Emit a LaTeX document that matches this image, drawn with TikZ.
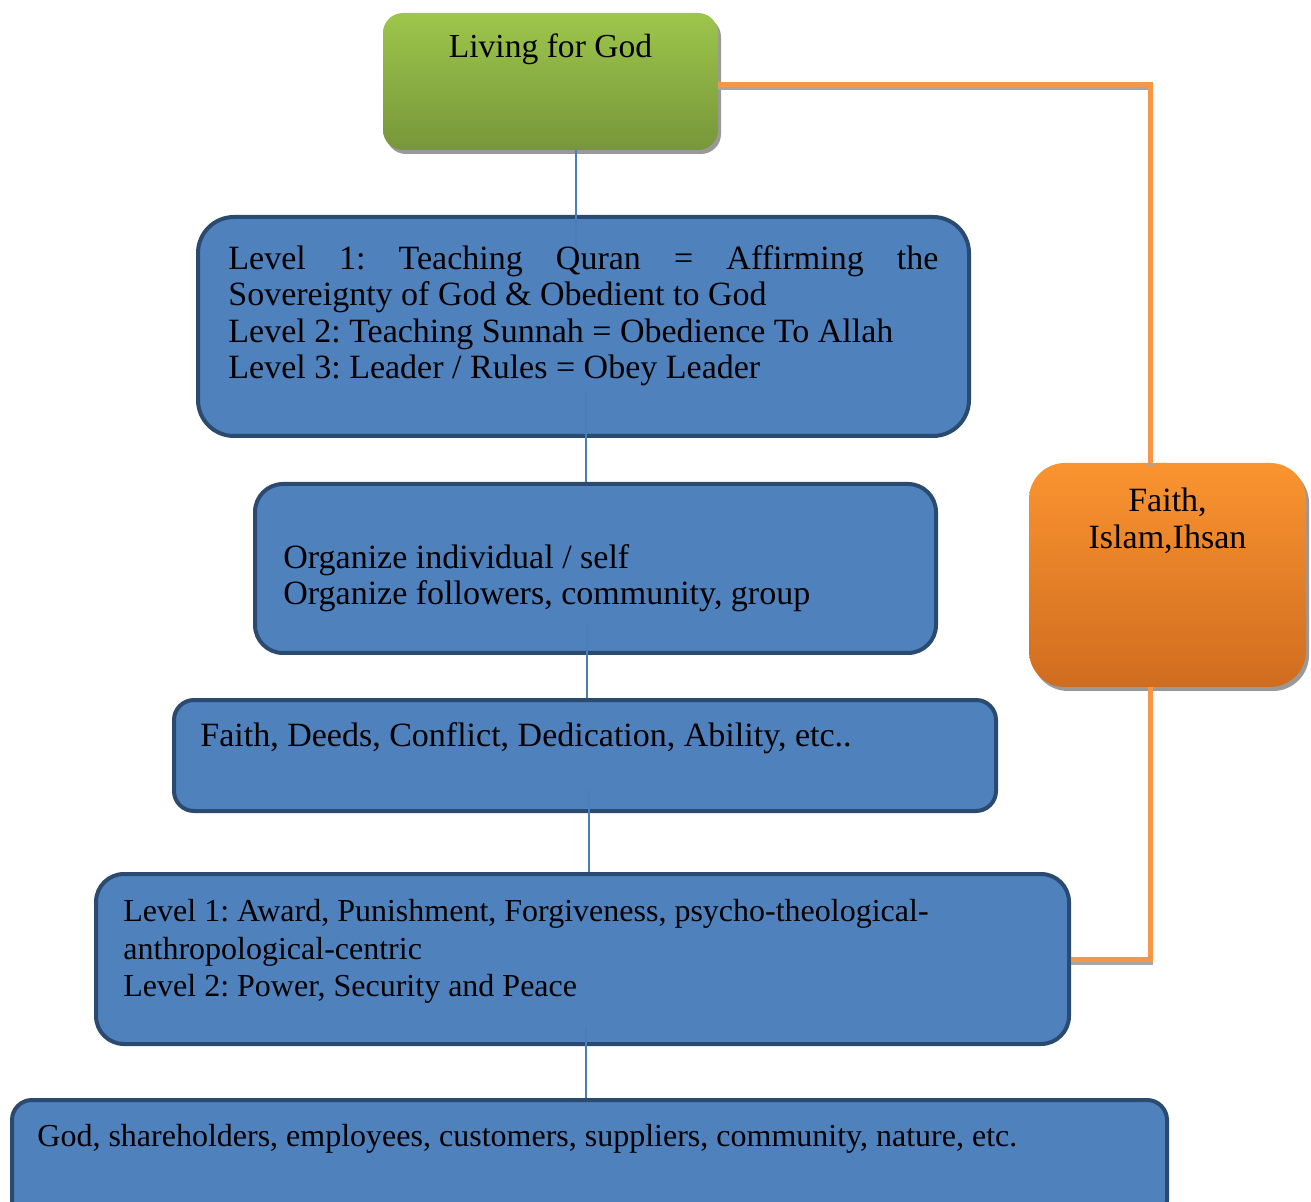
\documentclass[tikz,border=0pt]{standalone}
\usepackage{fontspec}
\setmainfont{Liberation Serif}
\usetikzlibrary{shadows}
\definecolor{boxblue}{HTML}{4F81BD}
\definecolor{boxedge}{HTML}{2B4A70}
\definecolor{linkblue}{HTML}{4A7EBB}
\definecolor{greentop}{HTML}{9DC64B}
\definecolor{greenbot}{HTML}{77963A}
\definecolor{orangetop}{HTML}{FA9430}
\definecolor{orangebot}{HTML}{D06C1F}
\definecolor{faithorange}{HTML}{F79646}
\begin{document}
\begin{tikzpicture}[x=0.5pt,y=-0.5pt,every node/.style={font=\fontsize{17}{18.2}\selectfont\frenchspacing},
  levelbox/.style={draw=boxedge,line width=2pt,fill=boxblue,rounded corners=#1,inner sep=0pt},
  shadebox/.style={rounded corners=#1,inner sep=0pt,drop shadow={shadow xshift=1.5pt,shadow yshift=-2pt,fill=black!40,opacity=1}},
  txt/.style={inner sep=0pt,text=black},
  smalltxt/.style={txt,font=\fontsize{16}{18.7}\selectfont\frenchspacing},
  link/.style={draw=linkblue,line width=0.8pt},
  faithline/.style={draw=faithorange,line width=2.5pt},
  faithshadow/.style={draw=black!35,line width=2.5pt,transform canvas={yshift=-1.5pt}}]
\useasboundingbox (0,0) rectangle (1311,1202);
\node[shadebox=10pt,top color=greentop,bottom color=greenbot,minimum width=167.5pt,minimum height=68.5pt] (g) at (550.5,81.5) {};
\node[shadebox=18pt,top color=orangetop,bottom color=orangebot,minimum width=138.5pt,minimum height=112pt] (f) at (1167.5,575) {};
\node[levelbox=18pt,minimum width=385.5pt,minimum height=109.5pt] (b1) at (583.5,326.5) {};
\node[levelbox=14pt,minimum width=340.5pt,minimum height=84.5pt] (b2) at (595.5,568.5) {};
\node[levelbox=10pt,minimum width=411pt,minimum height=55.5pt] (b3) at (585,755.5) {};
\node[levelbox=14pt,minimum width=486.5pt,minimum height=85pt] (b4) at (582.5,959) {};
\node[levelbox=10pt,minimum width=577.5pt,minimum height=60pt] (b5) at (589.5,1160) {};
\node[txt,anchor=base,font=\fontsize{16.8}{18.2}\selectfont] (tg) at (550.5,58) {Living for God};
\node[txt,anchor=north,align=center] (tf) at (1167.5,488) {Faith,\\Islam,Ihsan};
\node[txt,anchor=north west,text width=355pt,align=justify] (t1) at (228,245) {Level 1: Teaching Quran = Affirming the\linebreak \mbox{Sovereignty} of God \& Obedient to God\\Level 2: Teaching Sunnah = Obedience To Allah\\Level 3: Leader / Rules = Obey Leader};
\node[txt,anchor=north west,align=left] (t2) at (283,544) {Organize individual / self\\Organize followers, community, group};
\node[txt,anchor=base west] (t3) at (200,747) {Faith, Deeds, Conflict, Dedication, Ability, etc..};
\node[smalltxt,anchor=north west,align=left] (t4) at (123,899) {Level 1: Award, Punishment, Forgiveness, psycho-theological-\\anthropological-centric\\Level 2: Power, Security and Peace};
\node[smalltxt,anchor=base west] (t5) at (37,1146) {God, shareholders, employees, customers, suppliers, community, nature, etc.};
\draw[faithshadow] ([yshift=-1.5pt]g.east) -| ([xshift=-8.75pt]f.north);
\draw[faithshadow] ([xshift=-8.75pt]f.south) |- (b4.east);
\draw[faithline] ([yshift=-1.5pt]g.east) -| ([xshift=-8.75pt]f.north);
\draw[faithline] ([xshift=-8.75pt]f.south) |- (b4.east);
\draw[link] ([xshift=12.75pt]g.south) -- ([xshift=-3.75pt,yshift=-16pt]b1.north);
\draw[link] ([xshift=1.25pt,yshift=23pt]b1.south) -- ([xshift=-4.75pt]b2.north);
\draw[link] ([xshift=-4.25pt,yshift=15pt]b2.south) -- ([xshift=1pt]b3.north);
\draw[link] ([xshift=2pt,yshift=11.5pt]b3.south) -- ([xshift=3.25pt]b4.north);
\draw[link] ([xshift=1.75pt,yshift=9.5pt]b4.south) -- ([xshift=-1.75pt]b5.north);
\end{tikzpicture}
\end{document}
